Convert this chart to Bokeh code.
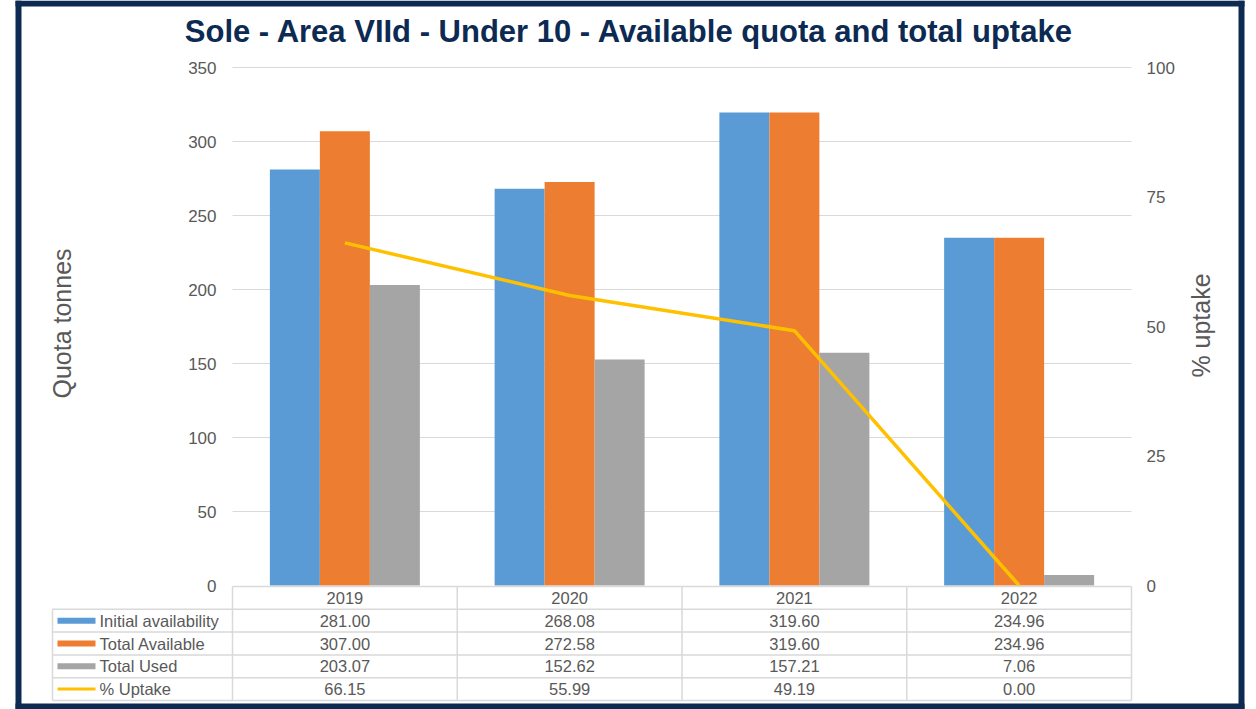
import math
from bokeh.plotting import figure
from bokeh.models import Range1d, LinearAxis, FixedTicker, ColumnDataSource
from bokeh.embed import file_html
from bokeh.resources import INLINE
from bokeh.core.properties import value

# ---------------- data ----------------
years = ["2019", "2020", "2021", "2022"]
initial_availability = [281.00, 268.08, 319.60, 234.96]
total_available = [307.00, 272.58, 319.60, 234.96]
total_used = [203.07, 152.62, 157.21, 7.06]
pct_uptake = [66.15, 55.99, 49.19, 0.00]
series_names = ["Initial availability", "Total Available", "Total Used", "% Uptake"]
left_ticks = [0, 50, 100, 150, 200, 250, 300, 350]
right_ticks = [0, 25, 50, 75, 100]
title_text = "Sole - Area VIId - Under 10 - Available quota and total uptake"
y_title_left = "Quota tonnes"
y_title_right = "% uptake"

# ---------------- style / layout ----------------
FONT = "Liberation Sans"
C_BLUE, C_ORANGE, C_GRAY, C_YELLOW = "#5B9BD5", "#ED7D31", "#A5A5A5", "#FFC000"
NAVY = "#0C2A52"
TXT = "#595959"
GRID = "#D9D9D9"

W, H = 1248, 709
n = len(years)
PLOT_L, PLOT_R, PLOT_T, PLOT_B = 232, 1131, 67, 585   # chart area in canvas px
XU = (PLOT_R - PLOT_L) / n                            # px per category
YMAX, PMAX = 350.0, 100.0
YU = (PLOT_B - PLOT_T) / YMAX                         # px per tonne


def px_x(px):
    return -0.5 + (px - PLOT_L) / XU


def px_y(py):
    return (PLOT_B - py) / YU


p = figure(width=W, height=H, output_backend="svg", toolbar_location=None,
           x_range=Range1d(px_x(0), px_x(W)), y_range=Range1d(px_y(H), px_y(0)),
           x_axis_location=None, y_axis_location=None,
           min_border=0, min_border_left=0, min_border_right=0,
           min_border_top=0, min_border_bottom=0)
p.outline_line_color = None
p.background_fill_color = "white"
p.border_fill_color = "white"
p.grid.visible = False

scale_p = PMAX / YMAX
p.extra_y_ranges = {"pct": Range1d(px_y(H) * scale_p, px_y(0) * scale_p)}

# axes drawn at the chart-area edges
la = LinearAxis(ticker=FixedTicker(ticks=left_ticks), fixed_location=-0.5)
ra = LinearAxis(y_range_name="pct", ticker=FixedTicker(ticks=right_ticks),
                fixed_location=n - 0.5)
p.add_layout(la, "left")
p.add_layout(ra, "right")
for ax, st in [(la, 16), (ra, 15)]:
    ax.axis_line_color = None
    ax.major_tick_line_color = None
    ax.minor_tick_line_color = None
    ax.major_tick_out = 0
    ax.major_tick_in = 0
    ax.minor_tick_out = 0
    ax.minor_tick_in = 0
    ax.major_label_text_font = FONT
    ax.major_label_text_font_size = "17px"
    ax.major_label_text_color = TXT
    ax.major_label_standoff = st

# gridlines (chart area only)
gt = left_ticks[1:]
p.segment(x0=[-0.5] * len(gt), x1=[n - 0.5] * len(gt), y0=gt, y1=gt,
          line_color=GRID, line_width=1)

# bars
bw = 50 / XU
idx = list(range(n))
bar_series = [(initial_availability, C_BLUE, -bw), (total_available, C_ORANGE, 0.0),
              (total_used, C_GRAY, bw)]
for vals, col, off in bar_series:
    src = ColumnDataSource(dict(x=[i + off for i in idx], top=vals))
    p.vbar(x="x", top="top", bottom=0, width=bw, source=src, fill_color=col,
           line_color=None)

# uptake line
p.line(x=idx, y=pct_uptake, y_range_name="pct", line_color=C_YELLOW,
       line_width=3.5)

# ---------------- data table ----------------
ROW_H = 22.8
row_top = [PLOT_B + 1 + k * ROW_H for k in range(6)]
row_mid = [(row_top[k] + row_top[k + 1]) / 2 for k in range(5)]
LBL_L = 52

xs0, ys0, xs1, ys1 = [], [], [], []
for k, yy in enumerate(row_top):
    xs0.append(-0.5 if k == 0 else px_x(LBL_L))
    xs1.append(n - 0.5)
    ys0.append(px_y(yy))
    ys1.append(px_y(yy))
for i in range(n + 1):
    xs0.append(i - 0.5)
    xs1.append(i - 0.5)
    ys0.append(px_y(row_top[0]))
    ys1.append(px_y(row_top[-1]))
xs0.append(px_x(LBL_L)); xs1.append(px_x(LBL_L))
ys0.append(px_y(row_top[1])); ys1.append(px_y(row_top[-1]))
p.segment(x0=xs0, y0=ys0, x1=xs1, y1=ys1, line_color=GRID, line_width=1.5)

text_kw = dict(text_font=value(FONT), text_font_size=value("16.5px"),
               text_color=TXT, text_baseline="middle")

# header years
p.text(x=idx, y=[px_y(row_mid[0])] * n, text=years, text_align="center", **text_kw)

# values
all_series = [initial_availability, total_available, total_used, pct_uptake]
vx, vy, vt = [], [], []
for r, vals in enumerate(all_series):
    for i, v in enumerate(vals):
        vx.append(i)
        vy.append(px_y(row_mid[r + 1]))
        vt.append(f"{v:.2f}")
p.text(x=vx, y=vy, text=vt, text_align="center", **text_kw)

# row labels
p.text(x=[px_x(99)] * 4, y=[px_y(row_mid[r + 1]) for r in range(4)],
       text=series_names, text_align="left", **text_kw)

# legend keys
key_cols = [C_BLUE, C_ORANGE, C_GRAY, C_YELLOW]
key_w = [6, 6, 6, 3]
for r in range(4):
    yk = px_y(row_mid[r + 1])
    p.segment(x0=[px_x(57)], x1=[px_x(95)], y0=[yk], y1=[yk],
              line_color=key_cols[r], line_width=key_w[r], line_cap="butt")

# axis titles
p.text(x=[px_x(61)], y=[px_y(323)], text=[y_title_left], angle=math.pi / 2,
       text_align="center", text_baseline="middle", text_font=value(FONT),
       text_font_size=value("25px"), text_color=TXT)
p.text(x=[px_x(1200)], y=[px_y(325)], text=[y_title_right], angle=math.pi / 2,
       text_align="center", text_baseline="middle", text_font=value(FONT),
       text_font_size=value("25px"), text_color=TXT)

# chart title
p.text(x=[px_x(629)], y=[px_y(31)], text=[title_text], text_align="center",
       text_baseline="middle", text_font=value(FONT), text_font_size=value("31px"),
       text_font_style="bold", text_color=NAVY)

# outer frame
bl, br, bt, bb = px_x(18), px_x(1241), px_y(3), px_y(706)
p.segment(x0=[bl, br, br, bl], y0=[bt, bt, bb, bb],
          x1=[br, br, bl, bl], y1=[bt, bb, bb, bt],
          line_color=NAVY, line_width=6, line_cap="square")

open("out.html", "w").write(file_html(p, INLINE))
